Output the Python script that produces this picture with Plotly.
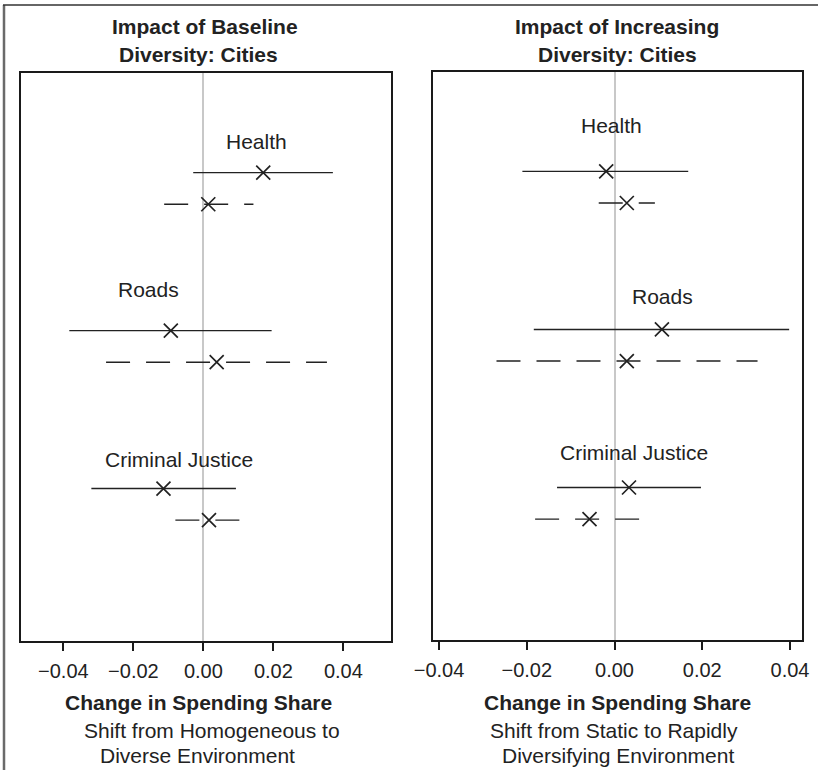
import plotly.graph_objects as go

# Spending categories, top to bottom
categories = ["Health", "Roads", "Criminal Justice"]

# Left panel: impact of baseline diversity (point estimate and interval ends)
base_solid_est = [0.0171, -0.0093, -0.0114]
base_solid_lo = [-0.0029, -0.0383, -0.0320]
base_solid_hi = [0.0370, 0.0195, 0.0093]
base_dash_est = [0.0014, 0.0038, 0.0016]
base_dash_lo = [-0.0112, -0.0278, -0.0080]
base_dash_hi = [0.0143, 0.0353, 0.0103]

# Right panel: impact of increasing diversity
inc_solid_est = [-0.0019, 0.0108, 0.0033]
inc_solid_lo = [-0.0210, -0.0184, -0.0131]
inc_solid_hi = [0.0168, 0.0398, 0.0197]
inc_dash_est = [0.0028, 0.0028, -0.0057]
inc_dash_lo = [-0.0036, -0.0269, -0.0181]
inc_dash_hi = [0.0092, 0.0326, 0.0057]

# Category label anchors (x in data units, height above the solid row)
base_label_x = [0.0151, -0.0157, -0.0069]
base_label_dy = [0.196, 0.262, 0.186]
inc_label_x = [-0.0006, 0.0110, 0.0044]
inc_label_dy = [0.289, 0.206, 0.219]

tick_vals = [-0.04, -0.02, 0.0, 0.02, 0.04]
tick_text = ["\u22120.04", "\u22120.02", "0.00", "0.02", "0.04"]

W, H = 818, 770
FONT = "Liberation Sans, Arial, Helvetica, sans-serif"
INK = "#222222"
ROW_GAP = 0.2

slots = [len(categories) - i for i in range(len(categories))]


def px(x):
    return x / W


def py(y):
    return 1 - y / H


fig = go.Figure()


def add_panel(xa, ya, s_est, s_lo, s_hi, d_est, d_lo, d_hi, lab_x, lab_dy):
    for i, cat in enumerate(categories):
        g = slots[i]
        fig.add_trace(go.Scatter(
            x=[s_lo[i], s_hi[i]], y=[g, g], mode="lines",
            line=dict(color=INK, width=1.4),
            xaxis=xa, yaxis=ya, hoverinfo="skip"))
        fig.add_trace(go.Scatter(
            x=[d_lo[i], d_hi[i]], y=[g - ROW_GAP, g - ROW_GAP], mode="lines",
            line=dict(color=INK, width=1.4, dash="24px,16px"),
            xaxis=xa, yaxis=ya, hoverinfo="skip"))
        fig.add_annotation(
            x=lab_x[i], y=g + lab_dy[i], xref=xa, yref=ya, text=cat,
            showarrow=False, font=dict(family=FONT, size=21, color=INK),
            xanchor="center", yanchor="middle")
    fig.add_trace(go.Scatter(
        x=s_est + d_est,
        y=slots + [g - ROW_GAP for g in slots],
        mode="markers",
        marker=dict(symbol="x-thin-open", size=14, color=INK,
                    line=dict(color=INK, width=1.7)),
        xaxis=xa, yaxis=ya))


add_panel("x", "y", base_solid_est, base_solid_lo, base_solid_hi,
          base_dash_est, base_dash_lo, base_dash_hi, base_label_x, base_label_dy)
add_panel("x2", "y2", inc_solid_est, inc_solid_lo, inc_solid_hi,
          inc_dash_est, inc_dash_lo, inc_dash_hi, inc_label_x, inc_label_dy)

xcommon = dict(
    showline=True, mirror=True, linecolor="#1a1a1a", linewidth=2,
    ticks="outside", ticklen=8, tickwidth=1.5, tickcolor="#1a1a1a",
    tickvals=tick_vals, ticktext=tick_text,
    tickfont=dict(family=FONT, size=20, color=INK),
    ticklabelstandoff=3,
    showgrid=False, zeroline=True, zerolinecolor="#c8c8c8", zerolinewidth=1.5,
    fixedrange=True, automargin=False,
)
ycommon = dict(
    showline=True, mirror=True, linecolor="#1a1a1a", linewidth=2,
    showticklabels=False, ticks="", showgrid=False, zeroline=False,
    range=[0.038, 3.631], fixedrange=True, automargin=False,
)

fig.update_layout(
    width=W, height=H,
    margin=dict(l=0, r=0, t=0, b=0, pad=0),
    paper_bgcolor="white", plot_bgcolor="white",
    showlegend=False,
    font=dict(family=FONT, color=INK),
    xaxis=dict(domain=[px(21), px(391)], range=[-0.0521, 0.0536], anchor="y", **xcommon),
    yaxis=dict(domain=[py(640.5), py(73)], anchor="x", **ycommon),
    xaxis2=dict(domain=[px(432.7), px(802)], range=[-0.04144, 0.04273], anchor="y2", **xcommon),
    yaxis2=dict(domain=[py(639.5), py(71.7)], anchor="x2", **ycommon),
)

# Panel titles and axis captions
texts = [
    ("Impact of Baseline", 205.3, 27, True),
    ("Diversity: Cities", 198, 54, True),
    ("Impact of Increasing", 617.3, 27, True),
    ("Diversity: Cities", 617.5, 54, True),
    ("Change in Spending Share", 198, 702, True),
    ("Shift from Homogeneous to", 212.2, 730, False),
    ("Diverse Environment", 197.5, 755, False),
    ("Change in Spending Share", 617, 702, True),
    ("Shift from Static to Rapidly", 613.7, 730, False),
    ("Diversifying Environment", 617.8, 755, False),
]
for txt, x, y, bold in texts:
    fig.add_annotation(
        x=px(x), y=py(y), xref="paper", yref="paper",
        text=f"<b>{txt}</b>" if bold else txt, showarrow=False,
        font=dict(family=FONT, size=21, color=INK),
        xanchor="center", yanchor="middle")

# Outer frame on the left and top edges
fig.add_shape(type="line", xref="paper", yref="paper",
              x0=px(4), x1=px(4), y0=0, y1=py(5),
              line=dict(color="#6a6a6a", width=2.5))
fig.add_shape(type="line", xref="paper", yref="paper",
              x0=px(3), x1=1, y0=py(5), y1=py(5),
              line=dict(color="#333333", width=1.5))

fig.write_html("out.html")
